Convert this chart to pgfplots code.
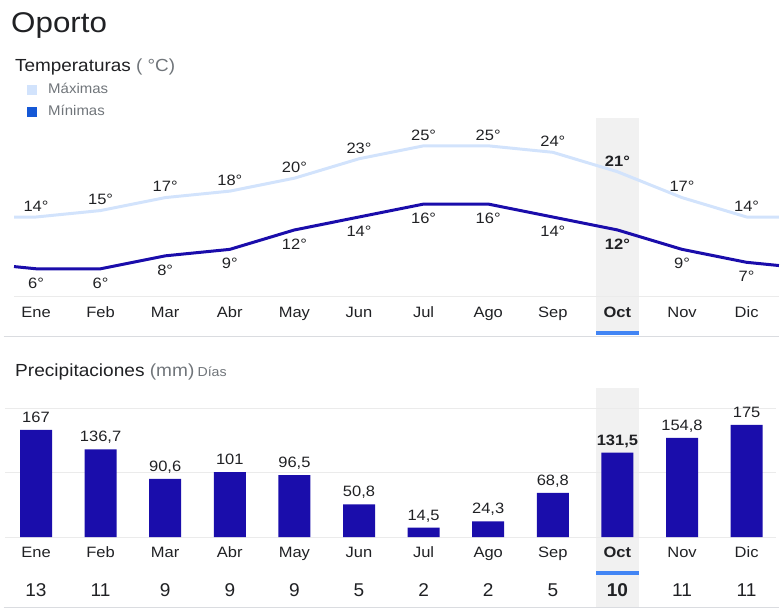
\documentclass[border=0pt]{standalone}
\usepackage{pgfplots}
\pgfplotsset{compat=1.18}
\usepackage{fontspec}
\setmainfont{Liberation Sans}
\definecolor{maxc}{HTML}{D2E3FC}
\definecolor{minc}{HTML}{1A0DAB}
\definecolor{barc}{HTML}{1A0DAB}
\definecolor{legmin}{HTML}{1558D6}
\definecolor{bandc}{HTML}{F1F1F1}
\definecolor{ulc}{HTML}{4285F4}
\definecolor{txt}{HTML}{202124}
\definecolor{subc}{HTML}{70757A}
\definecolor{gridc}{HTML}{EBEBEB}
\definecolor{sepc}{HTML}{DADCE0}
\newcommand{\fs}[1]{\fontsize{#1}{#1}\selectfont}
\begin{document}
\begin{tikzpicture}[x=1pt,y=1pt]
\path[use as bounding box] (0,0) rectangle (783,613);
% headers
\node[anchor=base west, inner sep=0, text=txt, font=\fs{28.5}, xscale=1.1] at (11,580) {Oporto};
\node[anchor=base west, inner sep=0, text=txt, font=\fs{17.5}, xscale=1.08] at (15,541) {Temperaturas \textcolor{subc}{( °C)}};
\fill[maxc] (27,518) rectangle (37,528);
\node[anchor=base west, inner sep=0, text=subc, font=\fs{14}, xscale=1.07] at (48,519) {Máximas};
\fill[legmin] (27,496) rectangle (37,506);
\node[anchor=base west, inner sep=0, text=subc, font=\fs{14}, xscale=1.07] at (48,497) {Mínimas};
\node[anchor=base west, inner sep=0, text=txt, font=\fs{17.5}, xscale=1.09] at (15,236) {Precipitaciones \textcolor{subc}{(mm)}\,{\color{subc}\fs{13}Días}};

% temperature chart
\begin{axis}[axis on top, at={(3.7pt,316pt)}, anchor=south west, scale only axis,
  width=775.2pt, height=179pt, xmin=-0.5, xmax=11.5, ymin=1.64, ymax=29.3,
  axis line style={draw=none}, ytick=\empty, xtick={0,...,11},
  xticklabels={Ene,Feb,Mar,Abr,May,Jun,Jul,Ago,Sep,\textbf{Oct},Nov,Dic},
  tick style={draw=none}, clip=false,
  xticklabel style={font=\fs{15}, text=txt, anchor=base, yshift=-20.5pt, xscale=1.1}]
\fill[bandc] (axis cs:8.667,-4.23) rectangle (axis cs:9.333,29.3);
\fill[ulc] (axis cs:8.667,-4.23) rectangle (axis cs:9.333,-3.62);
\draw[gridc, line width=1pt] (axis cs:-0.34,1.64) -- (axis cs:11.5,1.64);
\draw[sepc, line width=1pt] (axis cs:-0.5,-4.54) -- (axis cs:11.5,-4.54);
\addplot[maxc, line width=3pt, line join=round] coordinates {
(-0.34,14) (0,14) (1,15) (2,17) (3,18) (4,20) (5,23) (6,25) (7,25) (8,24) (9,21) (10,17) (11,14) (11.5,14)};
\addplot[minc, line width=3pt, line join=round] coordinates {
(-0.34,6.34) (0,6) (1,6) (2,8) (3,9) (4,12) (5,14) (6,16) (7,16) (8,14) (9,12) (10,9) (11,7) (11.5,6.5)};
\addplot[draw=none, nodes near coords, point meta=explicit symbolic,
  every node near coord/.append style={anchor=base, yshift=5.6pt, font=\fs{15}, text=txt, xscale=1.1}] coordinates {
(0,14)[14°] (1,15)[15°] (2,17)[17°] (3,18)[18°] (4,20)[20°] (5,23)[23°] (6,25)[25°] (7,25)[25°] (8,24)[24°] (9,21)[{\textbf{21°}}] (10,17)[17°] (11,14)[14°]};
\addplot[draw=none, nodes near coords, point meta=explicit symbolic,
  every node near coord/.append style={anchor=base, yshift=-19.4pt, font=\fs{15}, text=txt, xscale=1.1}] coordinates {
(0,6)[6°] (1,6)[6°] (2,8)[8°] (3,9)[9°] (4,12)[12°] (5,14)[14°] (6,16)[16°] (7,16)[16°] (8,14)[14°] (9,12)[{\textbf{12°}}] (10,9)[9°] (11,7)[7°]};
\end{axis}

% precipitation chart
\begin{axis}[axis on top, at={(3.7pt,76pt)}, anchor=south west, scale only axis,
  width=775.2pt, height=149pt, xmin=-0.5, xmax=11.5, ymin=0, ymax=232.4,
  axis line style={draw=none}, ytick=\empty, xtick={0,...,11},
  xticklabels={Ene,Feb,Mar,Abr,May,Jun,Jul,Ago,Sep,\textbf{Oct},Nov,Dic},
  tick style={draw=none}, clip=false,
  xticklabel style={font=\fs{15}, text=txt, anchor=base, yshift=-20.5pt, xscale=1.1}]
\fill[bandc] (axis cs:8.667,-110.8) rectangle (axis cs:9.333,232.4);
\fill[ulc] (axis cs:8.667,-59.3) rectangle (axis cs:9.333,-53);
\draw[gridc, line width=1pt] (axis cs:-0.48,200) -- (axis cs:11.45,200);
\draw[gridc, line width=1pt] (axis cs:-0.48,100) -- (axis cs:11.45,100);
\draw[gridc, line width=1pt] (axis cs:-0.48,0) -- (axis cs:11.45,0);
\draw[sepc, line width=1pt] (axis cs:-0.5,-109.2) -- (axis cs:11.5,-109.2);
\addplot[ybar, bar width=32pt, fill=barc, draw=none, nodes near coords, point meta=explicit symbolic,
  every node near coord/.append style={anchor=base, yshift=7.6pt, font=\fs{15}, text=txt, xscale=1.1}] coordinates {
(0,167)[167] (1,136.7)[{136,7}] (2,90.6)[{90,6}] (3,101)[101] (4,96.5)[{96,5}] (5,50.8)[{50,8}]
(6,14.5)[{14,5}] (7,24.3)[{24,3}] (8,68.8)[{68,8}] (9,131.5)[{\textbf{131,5}}] (10,154.8)[{154,8}] (11,175)[175]};
\addplot[draw=none, nodes near coords, point meta=explicit symbolic,
  every node near coord/.append style={anchor=base, font=\fs{18.5}, text=txt, xscale=1.03}] coordinates {
(0,-92.8)[13] (1,-92.8)[11] (2,-92.8)[9] (3,-92.8)[9] (4,-92.8)[9] (5,-92.8)[5]
(6,-92.8)[2] (7,-92.8)[2] (8,-92.8)[5] (9,-92.8)[{\textbf{10}}] (10,-92.8)[11] (11,-92.8)[11]};
\end{axis}
\end{tikzpicture}
\end{document}
